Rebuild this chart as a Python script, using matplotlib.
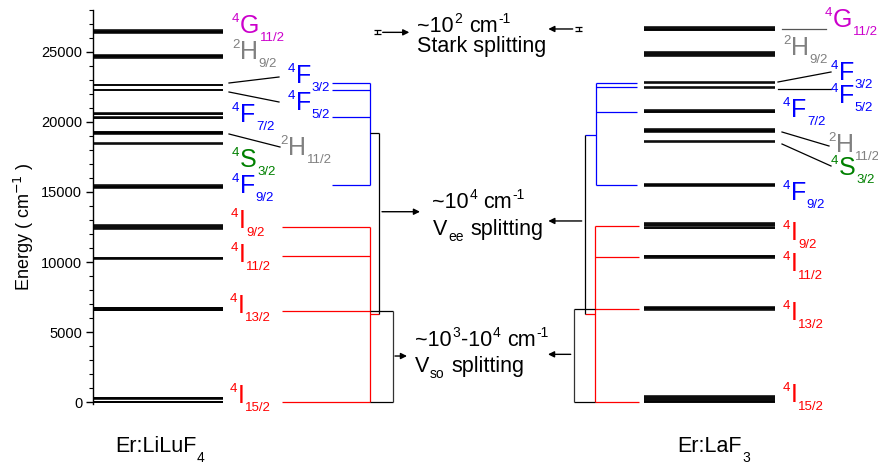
import matplotlib
matplotlib.use("Agg")
import matplotlib.pyplot as plt
import matplotlib.transforms as mtransforms
from matplotlib.lines import Line2D
from matplotlib.ticker import MultipleLocator

plt.rcParams["font.family"] = ["Liberation Sans", "DejaVu Sans"]

# ---------------- data ----------------
# Er3+ spectroscopic terms, ordered by energy
TERM_SPIN = ["4", "4", "4", "4", "4", "4", "2", "4", "4", "4", "2", "4"]
TERM_LETTER = ["I", "I", "I", "I", "F", "S", "H", "F", "F", "F", "H", "G"]
TERM_J = ["15/2", "13/2", "11/2", "9/2", "9/2", "3/2", "11/2", "7/2", "5/2", "3/2", "9/2", "11/2"]

# Stark sub-levels of every term (cm^-1)
LILUF4_LEVELS = [
    [0, 20, 28, 55, 250, 285, 310, 335],
    [6550, 6580, 6600, 6700, 6715, 6730],
    [10240, 10260, 10280],
    [12360, 12420, 12480, 12540, 12610],
    [15270, 15320, 15370, 15420, 15470],
    [18450, 18500],
    [19120, 19170, 19210, 19260, 19300],
    [20240, 20290, 20340, 20540, 20590, 20640],
    [22260, 22300],
    [22620, 22650],
    [24560, 24610, 24660, 24710, 24770],
    [26330, 26380, 26430, 26480, 26520],
]
LAF3_LEVELS = [
    [0, 40, 90, 150, 210, 320, 380, 440],
    [6580, 6630, 6690, 6750, 6800],
    [10320, 10360, 10400, 10430],
    [12400, 12460, 12540, 12630, 12700, 12760],
    [15440, 15480, 15520, 15550],
    [18570, 18610],
    [19270, 19320, 19380, 19430, 19480],
    [20680, 20730, 20790, 20850],
    [22420, 22450],
    [22790, 22830],
    [24720, 24780, 24840, 24910, 24970],
    [26530, 26580, 26630, 26690, 26730],
]

# multiplet positions used in the splitting schemes (cm^-1)
LILUF4_4I = [0, 6530, 10450, 12480]
LILUF4_4F = [15495, 20365, 22270, 22790]
LAF3_4I = [0, 6670, 10380, 12590]
LAF3_4F = [15495, 20680, 22460, 22750]

# junctions of the inter-electronic (Vee) bracket: 4F group, 4I group
LILUF4_VEE = [19200, 6275]
LAF3_VEE = [19060, 6275]

STARK_GAP = 290          # cm^-1, height of the small Stark glyph
YTICKS = [0, 5000, 10000, 15000, 20000, 25000]

# ---------------- styles / layout ----------------
W, H = 879, 465
RED, BLUE, GREEN, GRAY, MAGENTA = "#ff0000", "#0000ff", "#008000", "#808080", "#cc00cc"
TERM_COLOR = [RED, RED, RED, RED, BLUE, GREEN, GRAY, BLUE, BLUE, BLUE, GRAY, MAGENTA]

LEFT_LABEL_POS = [(230, 403), (230, 313), (231, 262), (231, 228), (232, 193), (232, 167),
                  (280, 155), (232, 122), (288, 110), (288, 83), (232, 59), (232, 33)]
RIGHT_LABEL_POS = [(783, 402), (783, 320), (783, 271), (783, 240), (783, 200), (831, 175),
                   (828, 152), (783, 117), (831, 103), (831, 80), (783, 55), (825, 27)]

LEFT_LEADERS = [((229, 83), (279, 77), "k"), ((229, 92), (279, 102), "k"),
                ((229, 134), (280, 147), "k")]
RIGHT_LEADERS = [((782, 29), (826, 29), "#555555"), ((778, 82), (831, 72), "k"),
                 ((778, 89), (831, 89), "k"), ((782, 132), (829, 146), "k"),
                 ((782, 144), (831, 166), "k")]

MAIN_FS, SMALL_FS = 18, 9.5
TEXT_FS, TEXT_SUP_FS = 15.5, 10

E_PX = 0.014024          # pixels per cm^-1
E0_PX = 402.3            # pixel row of zero energy
YLIM = (-120, 28000)
AX_LEFT = 93

fig = plt.figure(figsize=(W / 100, H / 100), dpi=100)
top_px = E0_PX - YLIM[1] * E_PX
bot_px = E0_PX - YLIM[0] * E_PX
ax = fig.add_axes([AX_LEFT / W, 1 - bot_px / H, (W - AX_LEFT) / W, (bot_px - top_px) / H])
ax.set_xlim(AX_LEFT, W)
ax.set_ylim(*YLIM)
ax.patch.set_visible(False)
for side in ("top", "right", "bottom"):
    ax.spines[side].set_visible(False)
ax.spines["left"].set_linewidth(1.0)
ax.set_xticks([])
ax.set_yticks(YTICKS)
ax.set_yticklabels([str(v) for v in YTICKS])
ax.yaxis.set_minor_locator(MultipleLocator(1000))
ax.tick_params(axis="y", which="major", direction="out", length=4.8, width=1.0,
               labelsize=10.5, pad=3)
ax.tick_params(axis="y", which="minor", direction="out", length=3.0, width=0.8)

PIX = mtransforms.Affine2D().scale(1 / W, -1 / H).translate(0, 1) + fig.transFigure
renderer = fig.canvas.get_renderer()


def rich(x, y, parts, color="k"):
    """Lay out pieces of text side by side; parts = (text, size, dy_px)."""
    cur = x
    for s, fs, dy in parts:
        if s.startswith(" "):
            cur += 0.278 * fs * 100 / 72
            s = s.lstrip(" ")
        t = fig.text(cur, y + dy, s, transform=PIX, fontsize=fs, color=color,
                     ha="left", va="baseline")
        cur += t.get_window_extent(renderer).width + 0.6
    return cur


def term_label(pos, i):
    x, y = pos
    rich(x, y, [(TERM_SPIN[i], SMALL_FS, -11), (TERM_LETTER[i], MAIN_FS, 0),
                (TERM_J[i], SMALL_FS, 8)], TERM_COLOR[i])


# ---------------- energy levels ----------------
for group in LILUF4_LEVELS:
    ax.hlines(group, 93, 223, colors="k", lw=1.1, clip_on=False)
for group in LAF3_LEVELS:
    ax.hlines(group, 644, 775, colors="k", lw=1.1, clip_on=False)

for i in range(len(TERM_J)):
    term_label(LEFT_LABEL_POS[i], i)
    term_label(RIGHT_LABEL_POS[i], i)

for (p0, p1, c) in LEFT_LEADERS + RIGHT_LEADERS:
    fig.add_artist(Line2D([p0[0], p1[0]], [p0[1], p1[1]], transform=PIX, color=c, lw=0.9))

LW = 0.9
# ---------------- splitting schemes: Er:LiLuF4 ----------------
ax.hlines(LILUF4_4I, 282, 370, colors=RED, lw=LW)
ax.vlines(370, min(LILUF4_4I), max(LILUF4_4I), colors=RED, lw=LW)
ax.hlines(LILUF4_4F, 332, 370, colors=BLUE, lw=LW)
ax.vlines(370, min(LILUF4_4F), max(LILUF4_4F), colors=BLUE, lw=LW)
ax.hlines(LILUF4_VEE[0], 370, 379, colors="k", lw=LW)
ax.hlines(LILUF4_VEE[1], 370, 379, colors=RED, lw=LW)
ax.vlines(379, LILUF4_VEE[1], LILUF4_VEE[0], colors="k", lw=LW)
ax.hlines(LILUF4_4I[:2], 370, 392.7, colors="k", lw=LW)
ax.vlines(392.7, LILUF4_4I[0], LILUF4_4I[1], colors="#333333", lw=LW)

# ---------------- splitting schemes: Er:LaF3 ----------------
ax.hlines(LAF3_4I, 595, 639, colors=RED, lw=LW)
ax.vlines(595, min(LAF3_4I), max(LAF3_4I), colors=RED, lw=LW)
ax.hlines(LAF3_4F, 596, 637, colors=BLUE, lw=LW)
ax.vlines(596, min(LAF3_4F), max(LAF3_4F), colors=BLUE, lw=LW)
ax.hlines(LAF3_VEE[0], 585, 596, colors=BLUE, lw=LW)
ax.hlines(LAF3_VEE[1], 585, 595, colors=RED, lw=LW)
ax.vlines(585, LAF3_VEE[1], LAF3_VEE[0], colors="k", lw=LW)
ax.hlines(LAF3_4I[:2], 574, 595, colors="k", lw=LW)
ax.vlines(574, LAF3_4I[0], LAF3_4I[1], colors="#333333", lw=LW)

# small Stark-splitting glyphs
for xc, e in ((377.5, 26380), (579.0, 26620)):
    ax.hlines([e - STARK_GAP / 2, e + STARK_GAP / 2], xc - 3.5, xc + 3.5, colors="k", lw=0.9)
    ax.vlines(xc, e - STARK_GAP / 2, e + STARK_GAP / 2, colors="k", lw=0.9)

# arrows pointing to the captions
ARROWS = [(382.7, 409.3, 26380), (572.7, 548.3, 26620),
          (382.0, 420.0, 13590), (581.7, 548.3, 12930),
          (395.0, 407.0, 3300), (570.7, 548.0, 3420)]
for x_tail, x_head, e in ARROWS:
    ax.annotate("", xy=(x_head, e), xytext=(x_tail, e),
                arrowprops=dict(arrowstyle="-|>", color="k", lw=1.0, mutation_scale=9,
                                shrinkA=0, shrinkB=0))

# ---------------- captions ----------------
rich(417, 32, [("~10", TEXT_FS, 0), ("2", TEXT_SUP_FS, -9), (" cm", TEXT_FS, 0),
               ("-1", TEXT_SUP_FS, -9)])
rich(417, 52, [("Stark splitting", TEXT_FS, 0)])
rich(432, 208, [("~10", TEXT_FS, 0), ("4", TEXT_SUP_FS, -9), (" cm", TEXT_FS, 0),
                ("-1", TEXT_SUP_FS, -9)])
rich(433, 235, [("V", TEXT_FS, 0), ("ee", TEXT_SUP_FS, 6), (" splitting", TEXT_FS, 0)])
rich(415, 346, [("~10", TEXT_FS, 0), ("3", TEXT_SUP_FS, -9), ("-10", TEXT_FS, 0),
                ("4", TEXT_SUP_FS, -9), (" cm", TEXT_FS, 0), ("-1", TEXT_SUP_FS, -9)])
rich(415, 372, [("V", TEXT_FS, 0), ("so", TEXT_SUP_FS, 6), (" splitting", TEXT_FS, 0)])

rich(115, 452, [("Er:LiLuF", TEXT_FS, 0), ("4", TEXT_SUP_FS, 10)])
rich(677, 452, [("Er:LaF", TEXT_FS, 0), ("3", TEXT_SUP_FS, 10)])

fig.text(24, 227, r"Energy ( cm$^{-1}$ )", transform=PIX, rotation=90, fontsize=13,
         ha="center", va="center")

fig.savefig("out.png", dpi=100)
